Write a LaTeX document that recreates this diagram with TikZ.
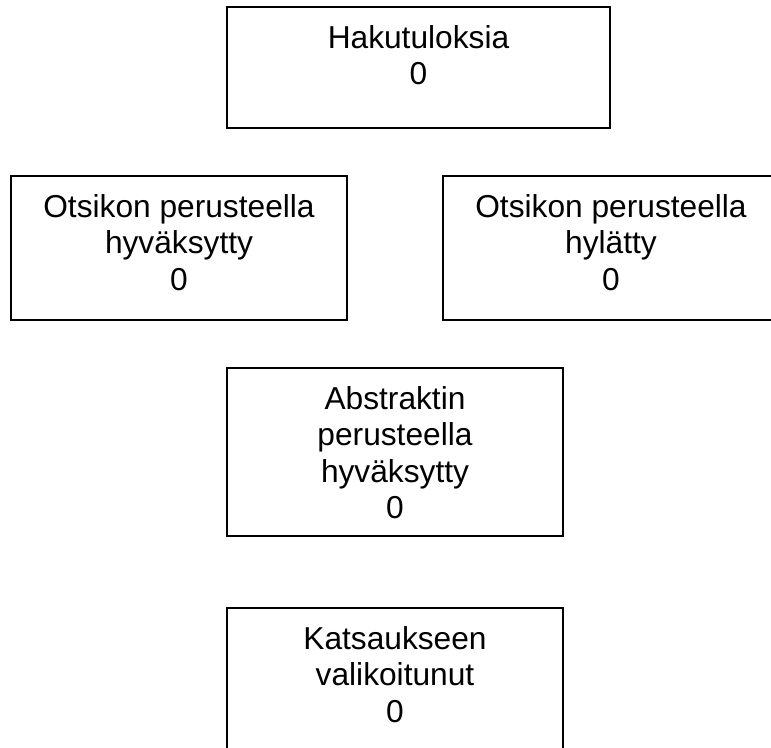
\documentclass[tikz,border=0pt]{standalone}
\usepackage{fontspec}
\setmainfont{Liberation Sans}

\begin{document}
\begin{tikzpicture}[x=1pt, y=-1pt, font=\fontsize{31.7}{36.5}\selectfont,
    box/.style={draw, line width=1.8pt, inner sep=0pt},
    lbl/.style={anchor=north, align=center, inner sep=0pt}]
  \useasboundingbox (0,0) rectangle (771,747);
  \clip (0,0) rectangle (771,747);
  % boxes
  \node[box, minimum width=383pt, minimum height=121pt] (haku) at (418.5,67.5) {};
  \node[box, minimum width=336pt, minimum height=144pt] (hyv) at (179,248) {};
  \node[box, minimum width=336pt, minimum height=144pt] (hyl) at (611,248) {};
  \node[box, minimum width=336pt, minimum height=168pt] (abs) at (395,452) {};
  \node[box, minimum width=336pt, minimum height=168pt] (kats) at (395,692) {};
  % texts
  \node[lbl] (hakut) at (418.5,25) {Hakutuloksia\\0};
  \node[lbl] (hyvt) at (179,194) {Otsikon perusteella\\hyväksytty\\0};
  \node[lbl] (hylt) at (611,194) {Otsikon perusteella\\hylätty\\0};
  \node[lbl] (abst) at (395,386) {Abstraktin\\perusteella\\hyväksytty\\0};
  \node[lbl] (katst) at (395,626) {Katsaukseen\\valikoitunut\\0};
\end{tikzpicture}
\end{document}
